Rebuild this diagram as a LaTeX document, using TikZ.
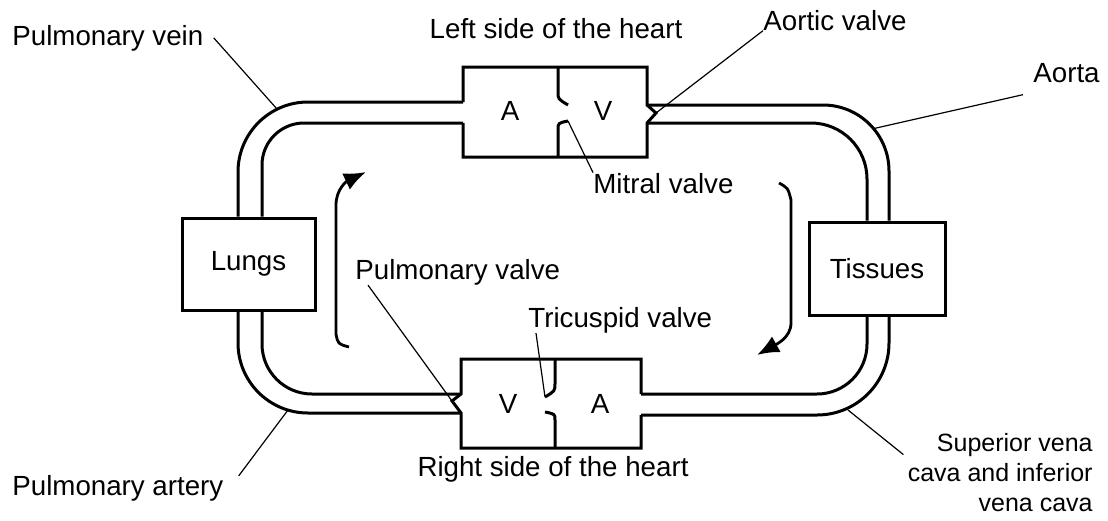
\documentclass[tikz,border=0pt]{standalone}
\usepackage{fontspec}
\setmainfont{Liberation Sans}
\usetikzlibrary{arrows.meta}

\tikzset{
  wall/.style={line width=1.5pt, line join=miter},
  lead/.style={line width=0.6pt},
  flow/.style={line width=1.4pt, -{Latex[length=11pt,width=9pt]}},
  lab/.style={inner sep=0pt, font=\fontsize{13.85pt}{15pt}\selectfont},
  organ/.style={wall, draw, lab},
}

\begin{document}
\begin{tikzpicture}[x=0.5pt, y=-0.5pt]

\useasboundingbox (0,0) rectangle (1108,520);

\coordinate (lo) at (238,0);
\coordinate (li) at (262,0);
\coordinate (ro) at (889,0);
\coordinate (ri) at (867,0);

\coordinate (lh-ao) at (463,102);
\coordinate (lh-ai) at (463,123);
\coordinate (lh-vo) at (647,105);
\coordinate (lh-vi) at (647,123);
\coordinate (av) at (656,113);
\coordinate (mv) at (568,121);

\coordinate (rh-vi) at (461,394);
\coordinate (rh-vo) at (461,413);
\coordinate (rh-ai) at (641,394);
\coordinate (rh-ao) at (641,415);
\coordinate (pv) at (452,401);
\coordinate (tv) at (545,397);

\node[organ, minimum width=66.5pt, minimum height=46pt] (lungs) at (248.5,264) {Lungs};
\node[organ, minimum width=68pt, minimum height=46.5pt] (tissues) at (877,268.5) {Tissues};

\draw[wall] (lh-ao) -- (463,67) -- (647,67) -- (lh-vo) -- (av) -- (lh-vi) -- (647,157) -- (463,157) -- (lh-ai);
\draw[wall] (558,67) -- (558,92) .. controls (558,99) .. (568,105);
\draw[wall] (558,157) -- (558,130) .. controls (558,123) .. (mv);
\node[lab] (lh-a) at (510,111) {A};
\node[lab] (lh-v) at (603,111) {V};

\draw[wall] (rh-ai) -- (641,359) -- (461,359) -- (rh-vi) -- (pv) -- (rh-vo) -- (461,448) -- (641,448) -- (rh-ao);
\draw[wall] (555,359) -- (555,383) .. controls (555,391) .. (tv);
\draw[wall] (555,448) -- (555,420) .. controls (555,414) .. (545,412);
\node[lab] (rh-v) at (508,404) {V};
\node[lab] (rh-a) at (600,404) {A};

\draw[wall, rounded corners=35pt] (lh-ao) -- (lh-ao -| lo) -- (lo |- lungs.north);
\draw[wall, rounded corners=21pt] (lh-ai) -- (lh-ai -| li) -- (li |- lungs.north);
\draw[wall, rounded corners=35pt] (lo |- lungs.south) -- (lo |- rh-vo) -- (rh-vo);
\draw[wall, rounded corners=25pt] (li |- lungs.south) -- (li |- rh-vi) -- (rh-vi);
\draw[wall, rounded corners=25pt] (rh-ai) -- (rh-ai -| ri) -- (ri |- tissues.south);
\draw[wall, rounded corners=36pt] (rh-ao) -- (rh-ao -| ro) -- (ro |- tissues.south);
\draw[wall, rounded corners=33pt] (lh-vo) -- (lh-vo -| ro) -- (ro |- tissues.north);
\draw[wall, rounded corners=28pt] (lh-vi) -- (lh-vi -| ri) -- (ri |- tissues.north);

\coordinate (up-s) at (349,347);
\coordinate (up-e) at (366,172);
\coordinate (down-s) at (779,183);
\coordinate (down-e) at (757,355);
\draw[flow] (up-s) .. controls (338,344) .. (336,334) -- (336,205) .. controls (336,189) and (347,181) .. (up-e);
\draw[flow] (down-s) .. controls (788,188) .. (791,200) -- (791,323) .. controls (791,338) and (775,345) .. (down-e);

\node[lab, anchor=base west] (pvein-l) at (12,45) {Pulmonary vein};
\node[lab, anchor=base] (left-l) at (556,38) {Left side of the heart};
\node[lab, anchor=base west] (av-l) at (763,30) {Aortic valve};
\node[lab, anchor=base west] (aorta-l) at (1033,82) {Aorta};
\node[lab, anchor=base west] (mv-l) at (593,193) {Mitral valve};
\node[lab, anchor=base west] (pvalve-l) at (355,279) {Pulmonary valve};
\node[lab, anchor=base west] (tv-l) at (528,327) {Tricuspid valve};
\node[lab, anchor=base west] (part-l) at (12,495) {Pulmonary artery};
\node[lab, anchor=base] (right-l) at (553,476) {Right side of the heart};
\node[lab, font=\fontsize{12.5pt}{15pt}\selectfont, anchor=north east, align=right] (vc-l) at (1093,433) {Superior vena\\cava and inferior\\vena cava};

\coordinate (pvein-p) at (277,109);
\coordinate (aorta-p) at (873.6,128.6);
\coordinate (part-p) at (288,410);
\coordinate (vc-p) at (848,410);

\draw[lead] ([xshift=5pt]pvein-l.east) -- (pvein-p);
\draw[lead] (av-l.south west) -- (av);
\draw[lead] ([xshift=-5pt,yshift=-6pt]aorta-l.south west) -- (aorta-p);
\draw[lead] (mv-l.north west) -- (mv);
\draw[lead] ([xshift=6.5pt]pvalve-l.south west) -- (pv);
\draw[lead] ([xshift=4pt]tv-l.south west) -- (tv);
\draw[lead] ([xshift=7.5pt,yshift=6pt]part-l.east) -- (part-p);
\draw[lead] ([xshift=-2pt,yshift=9pt]vc-l.west) -- (vc-p);

\end{tikzpicture}
\end{document}
